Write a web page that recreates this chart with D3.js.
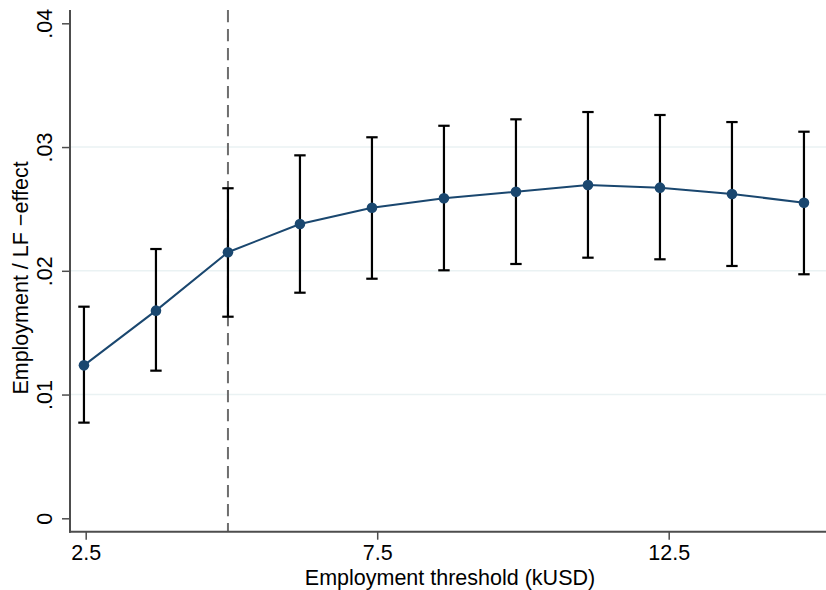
<!DOCTYPE html>
<html>
<head>
<meta charset="utf-8">
<script src="https://cdn.jsdelivr.net/npm/d3@7"></script>
<style>
  html, body { margin: 0; padding: 0; background: #fff; }
  svg { display: block; }
  text { font-family: "Liberation Sans", Arial, Helvetica, sans-serif; fill: #000; }
</style>
</head>
<body>
<svg id="chart" width="826" height="590"></svg>
<script>
// ---- data ----
const thresholds = [2.47, 3.705, 4.94, 6.175, 7.41, 8.645, 9.88, 11.115, 12.35, 13.585, 14.82];
const effect     = [0.01236, 0.01678, 0.0215, 0.02378, 0.0251, 0.02586, 0.02639, 0.02693, 0.02672, 0.02621, 0.0255];
const lower      = [0.00773, 0.01193, 0.01629, 0.01823, 0.01936, 0.02004, 0.02055, 0.02106, 0.02093, 0.02039, 0.01972];
const upper      = [0.0171, 0.02176, 0.02667, 0.02933, 0.03079, 0.03172, 0.03224, 0.03283, 0.03259, 0.03202, 0.03124];
const xTicks = [2.5, 7.5, 12.5];
const yTicks = [0, 0.01, 0.02, 0.03, 0.04];
const gridTicks = [0.01, 0.02, 0.03];
const refLine = 4.94;
const xTitle = "Employment threshold (kUSD)";
const yTitle = "Employment / LF \u2212effect";

// ---- layout ----
const svg = d3.select("#chart");
const plotLeft = 70, plotRight = 826, plotTop = 10, plotBottom = 531.7;
const fontSize = 21.5;

const x = d3.scaleLinear().domain([2.5, 12.5]).range([85.7, 668.7]);
const y = d3.scaleLinear().domain([0, 0.04]).range([518.3, 23.3]);

const navy = "#1a476f";

// gridlines
svg.append("g").selectAll("line").data(gridTicks).join("line")
  .attr("x1", plotLeft).attr("x2", plotRight)
  .attr("y1", d => y(d)).attr("y2", d => y(d))
  .attr("stroke", "#eaf2f3").attr("stroke-width", 1.6);

// reference dashed line
svg.append("line")
  .attr("x1", x(refLine)).attr("x2", x(refLine))
  .attr("y1", plotTop).attr("y2", plotBottom)
  .attr("stroke", "#6e6e6e").attr("stroke-width", 2)
  .attr("stroke-dasharray", "12.3,6.7");

const data = thresholds.map((t, i) => ({ t, e: effect[i], lo: lower[i], hi: upper[i] }));

// error bars
const eb = svg.append("g").attr("stroke", "#000").attr("stroke-width", 2.2).attr("fill", "none");
eb.selectAll("line.v").data(data).join("line").attr("class", "v")
  .attr("x1", d => x(d.t)).attr("x2", d => x(d.t))
  .attr("y1", d => y(d.lo)).attr("y2", d => y(d.hi));
eb.selectAll("line.top").data(data).join("line").attr("class", "top")
  .attr("x1", d => x(d.t) - 5.7).attr("x2", d => x(d.t) + 5.7)
  .attr("y1", d => y(d.hi)).attr("y2", d => y(d.hi));
eb.selectAll("line.bot").data(data).join("line").attr("class", "bot")
  .attr("x1", d => x(d.t) - 5.7).attr("x2", d => x(d.t) + 5.7)
  .attr("y1", d => y(d.lo)).attr("y2", d => y(d.lo));

// connecting line
svg.append("path").datum(data)
  .attr("fill", "none").attr("stroke", navy).attr("stroke-width", 2)
  .attr("d", d3.line().x(d => x(d.t)).y(d => y(d.e)));

// markers
svg.append("g").selectAll("circle").data(data).join("circle")
  .attr("cx", d => x(d.t)).attr("cy", d => y(d.e)).attr("r", 5.3)
  .attr("fill", navy);

// axes
const axisColor = "#4d4d4d";
const yFmt = d => d === 0 ? "0" : d3.format(".2f")(d).replace(/^0/, "");
const yAxis = svg.append("g").attr("transform", `translate(${plotLeft},0)`)
  .call(d3.axisLeft(y).tickValues(yTicks).tickFormat(yFmt).tickSize(8).tickSizeOuter(0));
yAxis.select(".domain").remove();
yAxis.selectAll(".tick line").attr("stroke", axisColor).attr("stroke-width", 1.5);
yAxis.selectAll(".tick text")
  .attr("transform", "rotate(-90)")
  .attr("x", 0).attr("y", -18.5).attr("dy", null).attr("dx", null)
  .attr("text-anchor", "middle")
  .style("font-size", fontSize + "px").style("font-family", "Liberation Sans, Arial, sans-serif").attr("fill", "#000");

const xAxis = svg.append("g").attr("transform", `translate(0,${plotBottom})`)
  .call(d3.axisBottom(x).tickValues(xTicks).tickFormat(d3.format(".1f")).tickSize(8).tickSizeOuter(0));
xAxis.select(".domain").remove();
xAxis.selectAll(".tick line").attr("stroke", axisColor).attr("stroke-width", 1.5);
xAxis.selectAll(".tick text")
  .attr("y", 28.5).attr("dy", null)
  .style("font-size", fontSize + "px").style("font-family", "Liberation Sans, Arial, sans-serif").attr("fill", "#000");

// axis lines
svg.append("line").attr("x1", plotLeft).attr("x2", plotLeft)
  .attr("y1", plotTop).attr("y2", plotBottom + 1)
  .attr("stroke", axisColor).attr("stroke-width", 2);
svg.append("line").attr("x1", plotLeft - 1).attr("x2", plotRight)
  .attr("y1", plotBottom).attr("y2", plotBottom)
  .attr("stroke", axisColor).attr("stroke-width", 2);

// titles
svg.append("text").attr("x", 450).attr("y", 585)
  .attr("text-anchor", "middle").style("font-size", fontSize + "px").text(xTitle);
svg.append("text").attr("transform", "translate(27.5,278) rotate(-90)")
  .attr("text-anchor", "middle").style("font-size", fontSize + "px").text(yTitle);
</script>
</body>
</html>
